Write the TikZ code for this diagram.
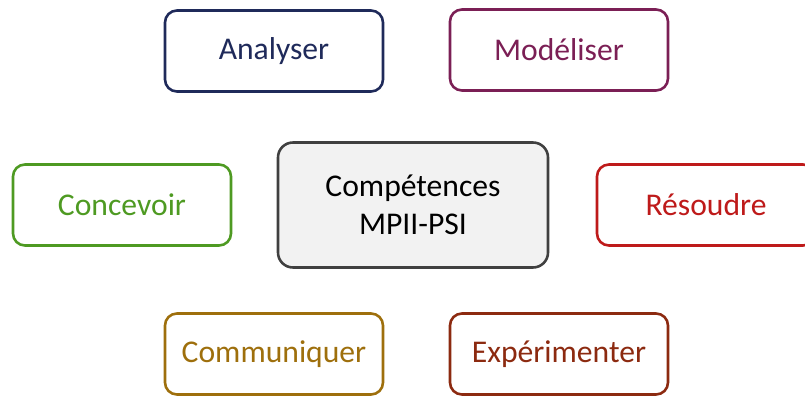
\documentclass[tikz,border=0pt]{standalone}
\usepackage{fontspec}
\setmainfont{Carlito}
\definecolor{navyc}{HTML}{1F2A5A}
\definecolor{purplec}{HTML}{7B1F55}
\definecolor{greenc}{HTML}{4E9A22}
\definecolor{redc}{HTML}{BE1A1A}
\definecolor{goldc}{HTML}{9E6F0C}
\definecolor{brownc}{HTML}{8C2A10}
\definecolor{grayc}{HTML}{404040}
\begin{document}
\begin{tikzpicture}[x=0.03cm,y=-0.03cm,
    skillbox/.style={rectangle,rounded corners=0.36cm,draw=#1,text=#1,line width=2.2pt,
        minimum width=6.54cm,minimum height=2.43cm,font=\fontsize{27}{32}\selectfont},
    corebox/.style={rectangle,rounded corners=0.45cm,draw=grayc,fill=gray!10,line width=2.2pt,
        minimum width=8.1cm,minimum height=3.75cm,align=center,
        font=\fontsize{27}{32}\selectfont}]
        \useasboundingbox (0,0) rectangle (805,396);
        \clip (0,0) rectangle (805,396);

        \node [corebox] (core) at (413,205) {Compétences\\MPII-PSI};

        \foreach \name/\txt/\col/\x/\y in {analyser/Analyser/navyc/274/51,
            modeliser/Modéliser/purplec/559/50,
            concevoir/Concevoir/greenc/122/205,
            resoudre/Résoudre/redc/706/205,
            communiquer/Communiquer/goldc/274/354,
            experimenter/Expérimenter/brownc/559/354}{
            \node [skillbox=\col] (\name) at (\x,\y) {\txt};
        }
    \end{tikzpicture}
\end{document}
